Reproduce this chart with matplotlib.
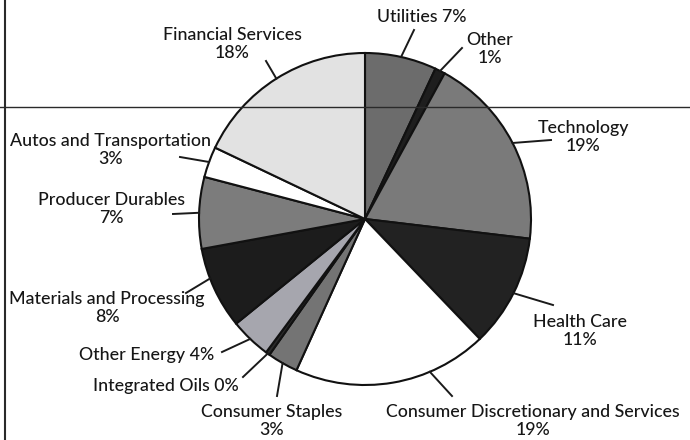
import matplotlib
matplotlib.use("Agg")
import matplotlib.pyplot as plt
import numpy as np

# sector weights, clockwise from 12 o'clock
sectors = ["Utilities", "Other", "Technology", "Health Care",
           "Consumer Discretionary and Services", "Consumer Staples",
           "Integrated Oils", "Other Energy", "Materials and Processing",
           "Producer Durables", "Autos and Transportation", "Financial Services"]
weights = [7, 1, 19, 11, 19, 3, 0.4, 4, 8, 7, 3, 18]
pct_labels = ["7%", "1%", "19%", "11%", "19%", "3%", "0%", "4%", "8%", "7%", "3%", "18%"]
colors = ["#6c6c6c", "#1e1e1e", "#7a7a7a", "#222222", "#ffffff", "#747474",
          "#2a2a2a", "#a6a6ae", "#1c1c1c", "#7c7c7c", "#ffffff", "#e2e2e2"]

W, H = 690, 440
plt.rcParams['font.family'] = ['Lato', 'DejaVu Sans']

fig = plt.figure(figsize=(6.9, 4.4), dpi=100)
ax = fig.add_axes([0, 0, 1, 1])

cx, cy, r = 365, H - 219, 166
wedges, _ = ax.pie(weights, colors=colors, startangle=90, counterclock=False,
                   center=(cx, cy), radius=r, frame=True,
                   wedgeprops=dict(edgecolor='#111111', linewidth=1.5))
ax.set_xlim(0, W)
ax.set_ylim(0, H)
ax.set_aspect('equal')
ax.axis('off')

# label layout (pixel coords, y from top): text position, two-line or one,
# outer end of leader, and leader hit angle on the rim (None = wedge middle)
text_pos = [(422, 17), (490, 49), (583, 137), (580, 331), (533, 421), (272, 421),
            (166, 386), (147, 355), (107, 308), (111, 209), (111, 150), (232, 44)]
one_line = [True, False, False, False, False, False, True, True, False, False, False, False]
leader_out = [(414, 30), (462, 48), (551, 140), (553, 305), (452, 396), (277, 396),
              (243, 377), (222, 352), (186, 293), (173, 214), (180, 157), (266, 61)]
rim_angle = [None, None, None, None, 157, None, None, None, 249, None, None, None]

cum = np.concatenate([[0], np.cumsum(weights)]) / sum(weights) * 360
for i, name in enumerate(sectors):
    mid = rim_angle[i] if rim_angle[i] is not None else (cum[i] + cum[i + 1]) / 2
    a = np.deg2rad(90 - mid)
    ex, ey = cx + r * np.cos(a), cy + r * np.sin(a)
    ox, oy = leader_out[i]
    ax.plot([ox, ex], [H - oy, ey], color='#1a1a1a', lw=1.4, zorder=4)
    tx, ty = text_pos[i]
    if one_line[i]:
        s = name + " " + pct_labels[i]
    else:
        s = name + "\n" + pct_labels[i]
    ax.text(tx, H - ty, s, ha='center', va='center', fontsize=12.8,
            fontweight='medium', color='#161616', linespacing=1.2, zorder=5)

# scan artifacts: page rule and left border
ax.plot([0, W], [H - 107, H - 107], color='#2a2a2a', lw=1.0, zorder=6)
ax.plot([5, 5], [0, H], color='#2a2a2a', lw=1.5, zorder=6)

fig.savefig("out.png", dpi=100)
